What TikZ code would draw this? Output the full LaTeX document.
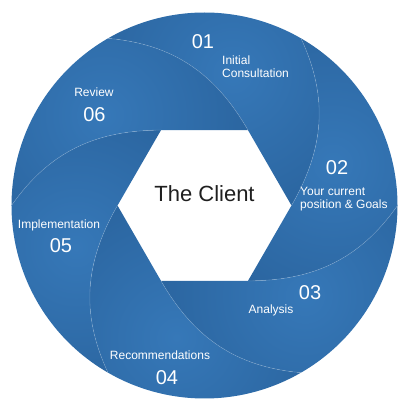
\documentclass[tikz,border=0pt]{standalone}
\usepackage{fontspec}
\setmainfont{Liberation Sans}
\usepackage{xcolor}
\usepackage{tikz}
\usetikzlibrary{calc}

\definecolor{segLight}{RGB}{54,120,184}
\definecolor{segDark}{RGB}{35,88,143}

\tikzset{
  num/.style={text=white, inner sep=0pt, font=\fontsize{20}{22}\selectfont},
  lbl/.style={text=white, inner sep=0pt, align=left, font=\fontsize{12}{13}\selectfont},
  edge/.style={white, opacity=0.2, line width=0.6pt},
}

\begin{document}
\begin{tikzpicture}[x=1pt,y=1pt]
\useasboundingbox (-204.5,-195.5) rectangle (195.5,205.5);
\def\R{193}
\def\r{87}
% the six swirl segments
\foreach \t in {0,-60,-120,-180,-240,-300} {
  \pgfmathsetmacro{\ta}{\t+60}
  \pgfmathsetmacro{\tb}{\t+120}
  \pgfmathsetmacro{\tc}{\t-5}
  \pgfmathsetmacro{\td}{\t-65}
  \pgfmathsetmacro{\tm}{\t+78}
  \begin{scope}
    \clip (\t:\r) -- (\ta:\r) to[out=\tb,in=\tc] (\tb:\R)
      arc[start angle=\tb, end angle=\ta, radius=\R]
      to[out=\td,in=\ta] (\t:\r) -- cycle;
    \shade[inner color=segLight, outer color=segDark] (\tm:135) circle (250);
  \end{scope}
}
% light seams between segments
\foreach \t in {0,60,...,300} {
  \pgfmathsetmacro{\ta}{\t+60}
  \pgfmathsetmacro{\td}{\t-65}
  \draw[edge] (\t:\r) to[out=\ta,in=\td] (\ta:\R);
}
\node[font=\fontsize{22}{24}\selectfont, text=black!88] (client) at (0,12) {The Client};
\node[num] (n01) at (-1.5,163.5) {01};
\node[lbl, anchor=west] (l01) at (17.5,139) {Initial\\Consultation};
\node[num] (n02) at (132.5,37.5) {02};
\node[lbl, anchor=west] (l02) at (95.5,6.5) {Your current\\position \& Goals};
\node[num] (n03) at (105.5,-87.5) {03};
\node[lbl] (l03) at (66.5,-105) {Analysis};
\node[lbl] (l04) at (-44.5,-150) {Recommendations};
\node[num] (n04) at (-37.5,-172.5) {04};
\node[lbl] (l05) at (-145.5,-19.5) {Implementation};
\node[num] (n05) at (-143.5,-40) {05};
\node[lbl] (l06) at (-110.5,113.5) {Review};
\node[num] (n06) at (-110,90.5) {06};
\end{tikzpicture}
\end{document}
